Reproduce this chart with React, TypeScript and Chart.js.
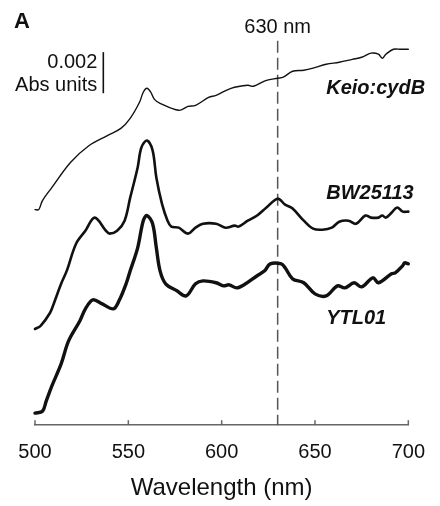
import { useEffect, useRef } from "react";
import { Chart, registerables } from "chart.js";

Chart.register(...registerables);

// ---- data (absorbance in units of 0.001 Abs, arbitrary vertical offsets) ----
const wavelengthTicks = [500, 550, 600, 650, 700];

const keioWavelengths = [500, 502, 504, 509, 519, 529, 539, 546, 551, 556, 558, 560, 562, 564, 567, 577, 582, 586, 593, 597, 605, 614, 617, 624, 630, 633, 638, 644, 649, 656, 663, 670, 675, 680, 684, 686, 688, 692, 696, 700];
const keioValues = [10.49, 10.49, 10.93, 11.56, 12.78, 13.61, 14.10, 14.44, 14.93, 15.71, 16.2, 16.39, 16.2, 15.85, 15.66, 15.32, 15.51, 15.56, 15.95, 16.05, 16.39, 16.54, 16.49, 16.78, 16.88, 16.93, 17.22, 17.27, 17.37, 17.56, 17.66, 17.80, 17.90, 18.10, 18.05, 17.85, 18.05, 18.29, 18.29, 18.29];

const bwWavelengths = [500, 503, 508, 510, 514, 517, 522, 527, 532, 538, 540, 544, 548, 551, 555, 557, 560, 563, 565, 568, 571, 573, 577, 582, 586, 590, 597, 602, 607, 609, 614, 619, 624, 630, 634, 638, 644, 649, 654, 659, 663, 668, 672, 677, 680, 684, 686, 688, 691, 694, 697, 700];
const bwValues = [4.68, 4.83, 5.46, 5.90, 6.88, 7.51, 8.83, 9.46, 10.10, 9.46, 9.32, 9.46, 9.95, 11.07, 12.54, 13.51, 13.85, 13.37, 12.05, 10.78, 9.95, 9.66, 9.61, 9.32, 9.61, 9.80, 9.80, 9.61, 9.71, 9.66, 9.95, 10.20, 10.59, 11.02, 10.73, 10.54, 9.95, 9.56, 9.51, 9.61, 9.90, 9.95, 9.80, 10.20, 10.10, 10.10, 10.20, 10.10, 10.34, 10.59, 10.39, 10.39];

const ytlWavelengths = [500, 504, 506, 509, 514, 518, 524, 527, 531, 536, 542, 545, 549, 551, 555, 558, 560, 563, 565, 567, 570, 576, 581, 586, 590, 597, 601, 604, 608, 612, 619, 623, 626, 632, 634, 638, 644, 650, 656, 662, 666, 671, 675, 681, 684, 691, 693, 697, 698, 700];
const ytlValues = [0.59, 0.68, 1.17, 1.90, 2.98, 4.10, 5.07, 5.66, 6.10, 5.90, 5.66, 6.05, 6.93, 7.51, 8.63, 9.95, 10.20, 9.80, 8.63, 7.51, 6.88, 6.54, 6.29, 6.88, 7.02, 6.93, 6.78, 6.83, 6.68, 6.83, 7.27, 7.51, 7.85, 7.85, 7.66, 7.12, 6.93, 6.39, 6.29, 6.78, 6.68, 6.93, 6.73, 7.17, 6.93, 7.37, 7.41, 7.76, 7.90, 7.85];

const seriesNames = ["Keio:cydB", "BW25113", "YTL01"];
const seriesLabelValues = [16.1, 11.02, 4.93];
const seriesLabelWavelength = 656;
const seriesWidths = [1.4, 2.6, 3.4];

const markerWavelength = 630;
const markerLabel = "630 nm";
const markerTopValue = 18.7;

const scaleBarWavelength = 536.6;
const scaleBarBase = 16.15;
const scaleBarSize = 2; // 0.002 Abs
const scaleBarLabels = ["0.002", "Abs units"];

const panelLabel = "A";
const xTitle = "Wavelength (nm)";

const FONT = "'Liberation Sans', Arial, Helvetica, sans-serif";

export default function App() {
  const ref = useRef<HTMLCanvasElement | null>(null);

  useEffect(() => {
    document.body.style.margin = "0";
    if (!ref.current) return;
    const toPts = (xs: number[], ys: number[]) => xs.map((x, i) => ({ x, y: ys[i] }));

    const deco = {
      id: "deco",
      beforeDatasetsDraw(chart: any) {
        const { ctx, chartArea, scales } = chart;
        const x = scales.x;
        const y = scales.y;
        ctx.save();
        const mx = x.getPixelForValue(markerWavelength);
        ctx.setLineDash([12, 5]);
        ctx.strokeStyle = "#555";
        ctx.lineWidth = 1.5;
        ctx.beginPath();
        ctx.moveTo(mx, y.getPixelForValue(markerTopValue));
        ctx.lineTo(mx, chartArea.bottom);
        ctx.stroke();
        ctx.restore();
      },
      afterDraw(chart: any) {
        const { ctx, chartArea, scales } = chart;
        const x = scales.x;
        const y = scales.y;
        ctx.save();
        // inward tick marks
        ctx.strokeStyle = "#666";
        ctx.lineWidth = 1.5;
        for (const t of wavelengthTicks) {
          const px = x.getPixelForValue(t);
          ctx.beginPath();
          ctx.moveTo(px, chartArea.bottom);
          ctx.lineTo(px, chartArea.bottom - 5);
          ctx.stroke();
        }
        ctx.fillStyle = "#111";
        ctx.textBaseline = "alphabetic";
        // marker label
        const mx = x.getPixelForValue(markerWavelength);
        ctx.font = `20px ${FONT}`;
        ctx.textAlign = "center";
        ctx.fillText(markerLabel, mx, y.getPixelForValue(markerTopValue) - 8);
        // scale bar
        const bx = x.getPixelForValue(scaleBarWavelength);
        const by0 = y.getPixelForValue(scaleBarBase);
        const by1 = y.getPixelForValue(scaleBarBase + scaleBarSize);
        ctx.strokeStyle = "#111";
        ctx.lineWidth = 1.6;
        ctx.beginPath();
        ctx.moveTo(bx, by0);
        ctx.lineTo(bx, by1);
        ctx.stroke();
        ctx.textAlign = "right";
        ctx.fillText(scaleBarLabels[0], bx - 6, by1 + 16);
        ctx.fillText(scaleBarLabels[1], bx - 6, by0 - 2);
        // series labels
        ctx.font = `italic bold 20px ${FONT}`;
        ctx.textAlign = "left";
        const lx = x.getPixelForValue(seriesLabelWavelength);
        seriesNames.forEach((n, i) => {
          ctx.fillText(n, lx, y.getPixelForValue(seriesLabelValues[i]));
        });
        // panel label
        ctx.font = `bold 22px ${FONT}`;
        ctx.fillText(panelLabel, 14, 28);
        ctx.restore();
      },
    };

    const chart = new Chart(ref.current, {
      type: "line",
      data: {
        datasets: [
          { label: seriesNames[0], data: toPts(keioWavelengths, keioValues), borderWidth: seriesWidths[0] },
          { label: seriesNames[1], data: toPts(bwWavelengths, bwValues), borderWidth: seriesWidths[1] },
          { label: seriesNames[2], data: toPts(ytlWavelengths, ytlValues), borderWidth: seriesWidths[2] },
        ].map((d) => ({
          ...d,
          borderColor: "#111",
          pointRadius: 0,
          tension: 0.35,
          fill: false,
          clip: false as any,
          borderJoinStyle: "round" as const,
          borderCapStyle: "round" as const,
        })),
      },
      options: {
        animation: false,
        responsive: false,
        devicePixelRatio: 1,
        layout: { padding: { left: 35, right: 22, top: 10, bottom: 0 } },
        plugins: { legend: { display: false }, tooltip: { enabled: false } },
        scales: {
          x: {
            type: "linear",
            min: 500,
            max: 700,
            afterBuildTicks: (s: any) => {
              s.ticks = wavelengthTicks.map((v) => ({ value: v }));
            },
            ticks: { font: { size: 20, family: FONT }, color: "#111", padding: 15, maxRotation: 0 },
            grid: { display: false, drawTicks: false },
            border: { display: true, color: "#666", width: 1.5 },
            title: {
              display: true,
              text: xTitle,
              font: { size: 24, family: FONT },
              color: "#111",
              padding: { top: -5, bottom: 3 },
            },
          },
          y: { type: "linear", display: false, min: 0, max: 20.2 },
        },
      },
      plugins: [deco],
    });
    return () => chart.destroy();
  }, []);

  return <canvas ref={ref} width={440} height={506} style={{ display: "block" }} />;
}
